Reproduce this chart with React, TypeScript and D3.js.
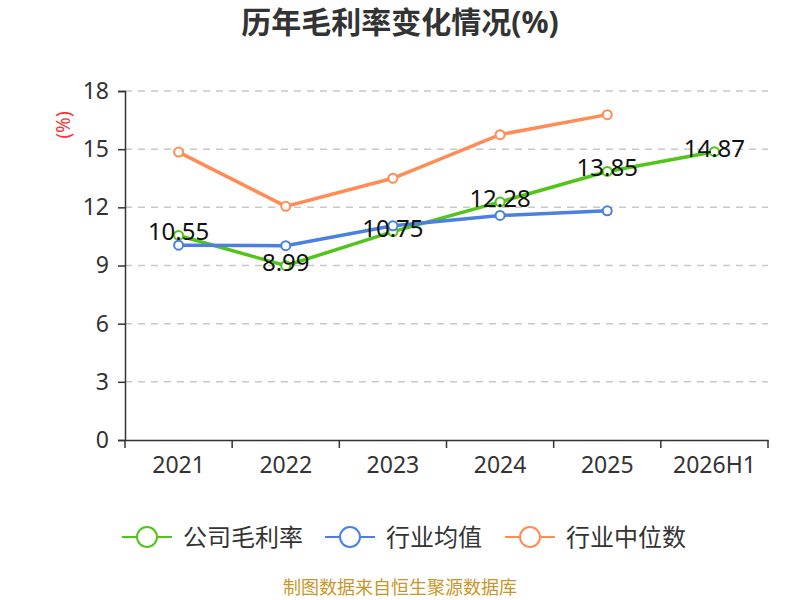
import React, { useEffect, useRef } from 'react';
import * as d3 from 'd3';

const years = ['2021', '2022', '2023', '2024', '2025', '2026H1'];
const companyMargin = [10.55, 8.99, 10.75, 12.28, 13.85, 14.87];
const industryAvg = [10.05, 10.02, 11.05, 11.58, 11.82];
const industryMedian = [14.85, 12.05, 13.5, 15.75, 16.78];
const yTicks = [0, 3, 6, 9, 12, 15, 18];

const seriesList = [
  { name: '公司毛利率', color: '#52c41a', values: companyMargin },
  { name: '行业均值', color: '#4a80e0', values: industryAvg },
  { name: '行业中位数', color: '#ff8c55', values: industryMedian },
];

const FONT = '"Noto Sans", "Noto Sans CJK SC", sans-serif';

export default function App() {
  const svgRef = useRef<SVGSVGElement>(null);

  useEffect(() => {
    if (!svgRef.current) return;
    const svg = d3.select(svgRef.current);
    svg.selectAll('*').remove();

    const width = 800;
    const height = 600;
    const margin = { top: 91, right: 32, bottom: 160, left: 125 };
    const innerW = width - margin.left - margin.right;
    const innerH = height - margin.top - margin.bottom;

    svg.attr('width', width).attr('height', height).style('font-family', FONT);

    // title
    svg.append('text')
      .attr('x', 400)
      .attr('y', 33)
      .attr('text-anchor', 'middle')
      .style('font-size', '30px')
      .style('font-weight', 'bold')
      .style('fill', '#333')
      .text('历年毛利率变化情况(%)');

    const g = svg.append('g').attr('transform', `translate(${margin.left},${margin.top})`);

    const x = d3.scaleBand<string>().domain(years).range([0, innerW]);
    const y = d3.scaleLinear().domain([0, 18]).range([innerH, 0]);
    const cx = (i: number) => (x(years[i]) as number) + x.bandwidth() / 2;

    // grid
    g.selectAll('.grid')
      .data(yTicks.filter(t => t > 0))
      .enter()
      .append('line')
      .attr('x1', 0)
      .attr('x2', innerW)
      .attr('y1', d => y(d))
      .attr('y2', d => y(d))
      .style('stroke', '#c8c8c8')
      .style('stroke-width', 1.5)
      .style('stroke-dasharray', '7,6');

    // y axis
    const yAxis = g.append('g')
      .call(d3.axisLeft(y).tickValues(yTicks).tickSize(7).tickPadding(9).tickFormat(d3.format('d')));
    yAxis.select('.domain').style('stroke', '#333').style('stroke-width', 1.5);
    yAxis.selectAll('.tick line').style('stroke', '#333').style('stroke-width', 1.5);
    yAxis.selectAll('.tick text')
      .style('font-size', '23px')
      .style('fill', '#333')
      .style('font-family', FONT);

    // x axis
    const xAxis = g.append('g')
      .attr('transform', `translate(0,${innerH})`)
      .call(d3.axisBottom(x).tickSize(0).tickPadding(17));
    xAxis.select('.domain').style('stroke', '#333').style('stroke-width', 1.5);
    xAxis.selectAll('.tick text')
      .style('font-size', '23px')
      .style('fill', '#333')
      .style('font-family', FONT);

    // x ticks at band boundaries
    g.selectAll('.xb')
      .data(d3.range(years.length + 1))
      .enter()
      .append('line')
      .attr('x1', i => i * x.bandwidth())
      .attr('x2', i => i * x.bandwidth())
      .attr('y1', innerH)
      .attr('y2', innerH + 8)
      .style('stroke', '#333')
      .style('stroke-width', 1.5);

    // unit label
    svg.append('text')
      .attr('transform', 'translate(70,125) rotate(-90)')
      .attr('text-anchor', 'middle')
      .style('font-size', '19px')
      .style('fill', '#ff3030')
      .text('(%)');

    const line = d3.line<number>()
      .x((_, i) => cx(i))
      .y(d => y(d));

    seriesList.forEach(s => {
      g.append('path')
        .datum(s.values)
        .attr('d', line)
        .style('fill', 'none')
        .style('stroke', s.color)
        .style('stroke-width', 3.5);

      g.selectAll(null)
        .data(s.values)
        .enter()
        .append('circle')
        .attr('cx', (_, i) => cx(i))
        .attr('cy', d => y(d))
        .attr('r', 4.5)
        .style('fill', '#fff')
        .style('stroke', s.color)
        .style('stroke-width', 2);
    });

    // labels for company series on top
    const comp = seriesList[0];
    g.selectAll(null)
      .data(comp.values)
      .enter()
      .append('text')
      .attr('x', (_, i) => cx(i))
      .attr('y', d => y(d) + 5)
      .attr('text-anchor', 'middle')
      .style('font-size', '24px')
      .style('fill', '#111')
      .text(d => d.toFixed(2));

    // legend
    const legendX = [122, 325, 505];
    seriesList.forEach((s, i) => {
      const lg = svg.append('g').attr('transform', `translate(${legendX[i]},537)`);
      lg.append('line')
        .attr('x1', 0)
        .attr('x2', 50)
        .attr('y1', 0)
        .attr('y2', 0)
        .style('stroke', s.color)
        .style('stroke-width', 2);
      lg.append('circle')
        .attr('cx', 25)
        .attr('cy', 0)
        .attr('r', 10)
        .style('fill', '#fff')
        .style('stroke', s.color)
        .style('stroke-width', 2);
      lg.append('text')
        .attr('x', 61)
        .attr('y', 0)
        .attr('dy', '0.36em')
        .style('font-size', '24px')
        .style('fill', '#333')
        .text(s.name);
    });

    // footer
    svg.append('text')
      .attr('x', 400)
      .attr('y', 594)
      .attr('text-anchor', 'middle')
      .style('font-size', '18px')
      .style('fill', '#c9962a')
      .text('制图数据来自恒生聚源数据库');
  }, []);

  return <svg ref={svgRef} style={{ display: 'block', position: 'absolute', left: 0, top: 0 }} />;
}
